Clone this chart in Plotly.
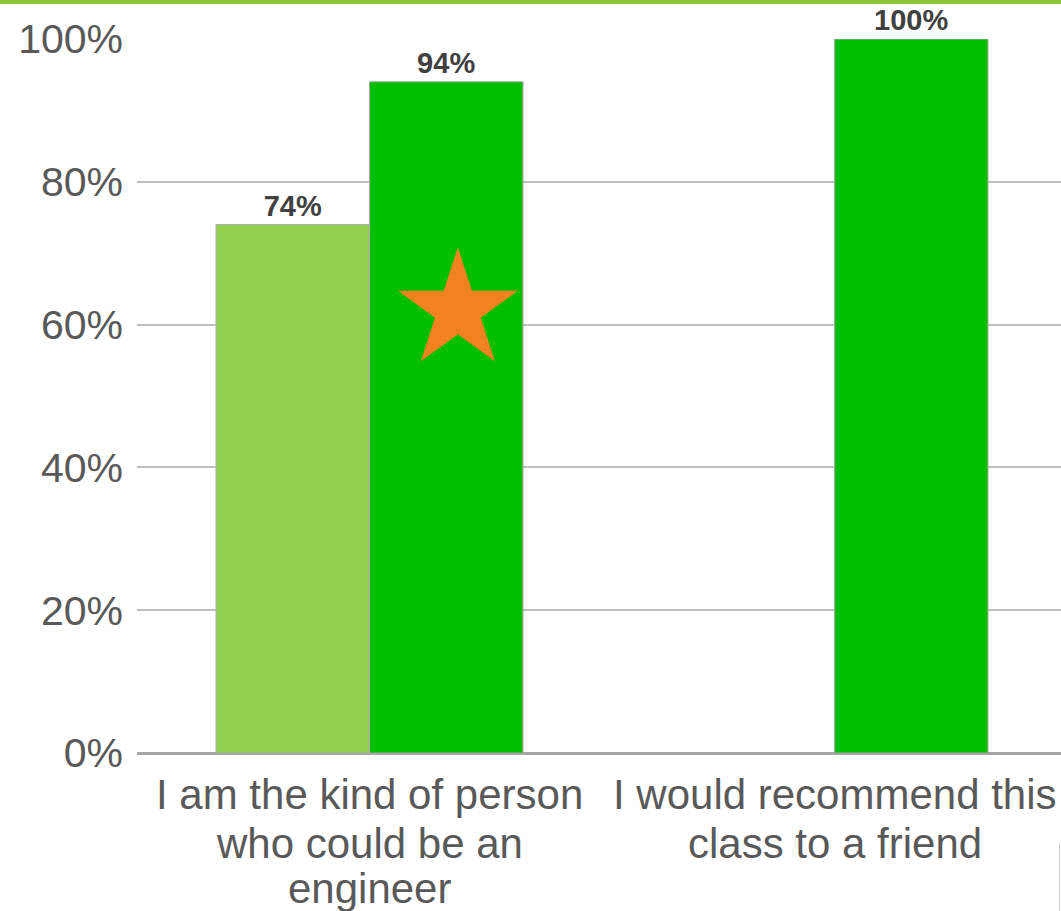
import plotly.graph_objects as go

# ---- data ----
category_lines = [["I am the kind of person", "who could be an", "engineer"],
                  ["I would recommend this", "class to a friend"]]
cat_pos = [0, 1]
series_before = [74, None]
series_after = [94, 100]
y_ticks = [0, 20, 40, 60, 80, 100]
y_tick_labels = ["0%", "20%", "40%", "60%", "80%", "100%"]
star_x = [0.19]
star_y = [62]

LIGHT = "#92D050"
GREEN = "#00BF00"
GRAY_TXT = "#595959"
FONT = "Liberation Sans, Arial"

fig = go.Figure()
fig.add_trace(go.Bar(
    x=cat_pos, y=series_before, marker=dict(color=LIGHT, line=dict(color="#a8a8a8", width=1)),
    text=[f"{v}%" if v is not None else "" for v in series_before],
    textposition="outside", cliponaxis=False,
    textfont=dict(family=FONT, size=29, color="#404040", weight="bold"),
    showlegend=False))
fig.add_trace(go.Bar(
    x=cat_pos, y=series_after, marker=dict(color=GREEN, line=dict(color="#a8a8a8", width=1)),
    text=[f"{v}%" for v in series_after],
    textposition="outside", cliponaxis=False,
    textfont=dict(family=FONT, size=29, color="#404040", weight="bold"),
    showlegend=False))
fig.add_trace(go.Scatter(
    x=star_x, y=star_y, mode="markers",
    marker=dict(symbol="star", size=90, color="#F58220", line=dict(width=0)),
    showlegend=False, hoverinfo="skip"))

# category labels (one annotation per line for tight line spacing)
annotations = []
line_shifts = [-41, -90, -135]
for pos, lines in zip(cat_pos, category_lines):
    for i, txt in enumerate(lines):
        annotations.append(dict(
            x=pos, y=0, xref="x", yref="y", text=txt, showarrow=False,
            xanchor="center", yanchor="middle", yshift=line_shifts[i],
            font=dict(family=FONT, size=42, color=GRAY_TXT)))

fig.update_layout(
    width=1061, height=911,
    margin=dict(l=137, r=0, t=39, b=158),
    paper_bgcolor="white", plot_bgcolor="white",
    barmode="group", bargap=0.34, bargroupgap=0,
    font=dict(family=FONT, color=GRAY_TXT),
    xaxis=dict(type="linear", range=[-0.5, 1.487], tickvals=cat_pos,
               showticklabels=False, automargin=False,
               showgrid=False, zeroline=False, showline=False, ticks=""),
    yaxis=dict(range=[0, 100], tickvals=y_ticks, ticktext=y_tick_labels,
               automargin=False,
               showgrid=True, gridcolor="#bfbfbf", gridwidth=2,
               zeroline=True, zerolinecolor="#a6a6a6", zerolinewidth=3,
               showline=False, ticks="", ticklabelstandoff=13,
               tickfont=dict(size=41, color=GRAY_TXT)),
    annotations=annotations,
    shapes=[
        dict(type="rect", xref="paper", yref="paper", x0=-0.2, x1=1.05,
             y0=1 + 35/714, y1=1 + 40/714, fillcolor="#8DC63F", line=dict(width=0), layer="above"),
        dict(type="line", xref="paper", yref="paper", x0=(1059.5-137)/924, x1=(1059.5-137)/924,
             y0=-(843-753)/714, y1=-(911-753)/714, line=dict(color="#cfcfcf", width=1)),
    ],
)

fig.write_html("out.html", config={"displayModeBar": False},
               post_script="document.body.style.margin='0';")
